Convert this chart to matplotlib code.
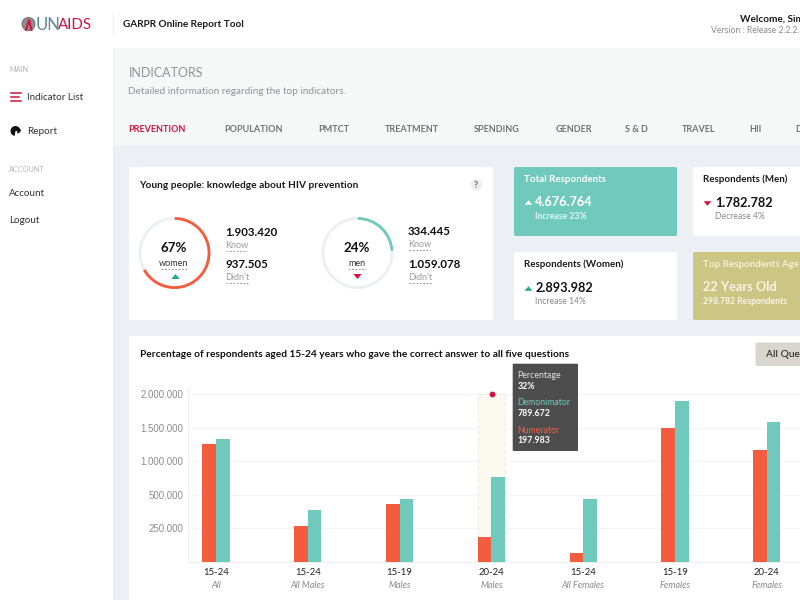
import matplotlib
matplotlib.use("Agg")
import matplotlib.pyplot as plt
import numpy as np
from matplotlib.patches import Circle, FancyBboxPatch, Rectangle, Wedge

plt.rcParams["font.family"] = ["Lato", "DejaVu Sans"]

RED = "#F45C40"
TEAL = "#70C9BD"
CRIMSON = "#D6123C"
BODY = "#ECEFF4"
SUBHEAD = "#F6F8F8"
GREEN_UP = "#1FA98F"
UP = [(-1, -0.6), (1, -0.6), (0, 0.6)]
DOWN = [(-1, 0.6), (1, 0.6), (0, -0.6)]

# chart data
age_groups = ["15-24", "15-24", "15-19", "20-24", "15-24", "15-19", "20-24"]
populations = ["All", "All Males", "Males", "Males", "All Females", "Females", "Females"]
numerator = [1250000, 265000, 427000, 180000, 61000, 1490000, 1170000]
denominator = [1330000, 385000, 467000, 755000, 467000, 1900000, 1575000]
y_ticks = [250000, 500000, 1000000, 1500000, 2000000]
y_tick_labels = ["250.000", "500.000", "1.000.000", "1.500.000", "2.000.000"]
highlight_group = 3

# tabs and cards
tab_names = ["PREVENTION", "POPULATION", "PMTCT", "TREATMENT", "SPENDING", "GENDER", "S & D", "TRAVEL", "HII", "D"]
tab_lefts = [129, 225, 319, 385, 474, 556, 626, 682, 750, 796]
women_pct = 67
men_pct = 24


def box(ui, x0, y0, x1, y1, color, radius=2, z=1):
    ui.add_patch(FancyBboxPatch((x0, y0), x1 - x0, y1 - y0, boxstyle=f"round,pad=0,rounding_size={radius}",
                                facecolor=color, edgecolor="none", zorder=z))


# lato sits a little high and right of the reference font, hence the small nudge
def txt(ui, x, y, s, size, color="#1a1a1a", weight="normal", ha="left", z=5, **kw):
    ui.text(x - 0.6, y + 0.6, s, fontsize=size, color=color, fontweight=weight, ha=ha, va="center", zorder=z, **kw)


def dashes(ui, x0, x1, y):
    ui.plot([x0, x1], [y, y], color="#9a9a9a", lw=0.7, ls=(0, (2, 1.5)), zorder=5)


def donut(fig, cx, cy, pct, color):
    r = 36
    ax = fig.add_axes([(cx - r) / 800, 1 - (cy + r) / 600, 2 * r / 800, 2 * r / 600], zorder=3)
    ax.pie([pct, 100 - pct], colors=[color, "#ECEFF4"], startangle=90, counterclock=False, radius=1,
           wedgeprops={"width": 0.08, "linewidth": 0})
    ax.set_xlim(-1, 1)
    ax.set_ylim(-1, 1)


fig = plt.figure(figsize=(8, 6), dpi=100, facecolor=BODY)

# page furniture in pixel coordinates
ui = fig.add_axes([0, 0, 1, 1], zorder=1)
ui.set_xlim(0, 800)
ui.set_ylim(600, 0)
ui.axis("off")

ui.add_patch(Rectangle((0, 0), 800, 48, facecolor="white", edgecolor="none", zorder=1))
ui.add_patch(Rectangle((0, 48), 113, 552, facecolor="white", edgecolor="none", zorder=1))
ui.add_patch(Rectangle((113, 48), 687, 97, facecolor=SUBHEAD, edgecolor="none", zorder=1))
ui.plot([113, 113], [14, 34], color="#EEEEEE", lw=0.8, zorder=2)
ui.plot([113, 113], [48, 600], color="#E6E8EA", lw=0.6, zorder=2)

# logo
ui.add_patch(Circle((28.5, 24), 6.5, facecolor="#8c8c8c", edgecolor="#666666", lw=0.6, zorder=3))
ui.plot([26, 29, 31.5], [30, 20, 30], color=CRIMSON, lw=1.4, zorder=4)
txt(ui, 36.5, 24, "UN", 12, "#5B88A3")
txt(ui, 58.5, 24, "AIDS", 10.8, CRIMSON)

txt(ui, 124, 24, "GARPR Online Report Tool", 7.2, "#1a1a1a", "bold")
txt(ui, 741, 18.5, "Welcome, Simon", 7.2, "#1a1a1a", "bold")
txt(ui, 712, 30, "Version : Release 2.2.2.3", 6.2, "#8a8a8a")

# sidebar
txt(ui, 10, 69, "MAIN", 5.2, "#b5b5b5")
for y in [93, 97, 101]:
    ui.plot([11, 21 if y != 97 else 19], [y, y], color=CRIMSON, lw=1.1, zorder=3)
txt(ui, 28, 96.5, "Indicator List", 7.1, "#333333")
ui.add_patch(Wedge((15.5, 131), 5, 100, 360, facecolor="#111111", edgecolor="none", zorder=3))
ui.add_patch(Wedge((17, 129.5), 4, 0, 85, facecolor="#111111", edgecolor="none", zorder=3))
txt(ui, 28, 130.5, "Report", 7.2, "#333333")
txt(ui, 10, 169, "ACCOUNT", 5.2, "#b5b5b5")
txt(ui, 10, 192.5, "Account", 7.1, "#333333")
txt(ui, 10, 220, "Logout", 7.1, "#333333")

# page heading and tabs
txt(ui, 129, 72, "INDICATORS", 9, "#8f9497")
txt(ui, 129, 90.5, "Detailed information regarding the top indicators.", 7.2, "#8f9497")
for i, (name, left) in enumerate(zip(tab_names, tab_lefts)):
    txt(ui, left, 129, name, 6.5, CRIMSON if i == 0 else "#6f7376", "bold", clip_on=True)

# knowledge card
box(ui, 129, 167, 493, 320, "white")
txt(ui, 140, 184.5, "Young people: knowledge about HIV prevention", 7.3, "#1a1a1a", "bold")
ui.add_patch(Circle((476.5, 184.5), 5.8, facecolor="#EEEEEE", edgecolor="none", zorder=3))
txt(ui, 476.5, 184.5, "?", 6.5, "#666666", "bold", ha="center")

donut(fig, 174.5, 253, women_pct, RED)
donut(fig, 357.5, 253, men_pct, TEAL)

overlay = fig.add_axes([0, 0, 1, 1], zorder=6)
overlay.set_xlim(0, 800)
overlay.set_ylim(600, 0)
overlay.axis("off")

txt(overlay, 174.5, 247.5, f"{women_pct}%", 9.6, "#111111", "bold", ha="center")
txt(overlay, 174.5, 262.5, "women", 6.5, "#333333", ha="center")
dashes(overlay, 161, 188, 268.5)
overlay.plot([174.5], [276], marker=UP, ms=6, color=GREEN_UP, mew=0)
txt(overlay, 357.5, 247.5, f"{men_pct}%", 9.6, "#111111", "bold", ha="center")
txt(overlay, 357.5, 262.5, "men", 6.5, "#333333", ha="center")
dashes(overlay, 348, 366, 268.5)
overlay.plot([357], [276], marker=DOWN, ms=6, color=CRIMSON, mew=0)

txt(overlay, 226, 232, "1.903.420", 8.3, "#111111", "bold")
txt(overlay, 226, 244.5, "Know", 6.5, "#9a9a9a")
dashes(overlay, 226, 247, 250.5)
txt(overlay, 226, 263.5, "937.505", 8.3, "#111111", "bold")
txt(overlay, 226, 276.5, "Didn't", 6.5, "#9a9a9a")
dashes(overlay, 226, 248, 282.5)
txt(overlay, 408.5, 231, "334.445", 8.3, "#111111", "bold")
txt(overlay, 408.5, 244, "Know", 6.5, "#9a9a9a")
dashes(overlay, 408.5, 430, 250)
txt(overlay, 408.5, 263.5, "1.059.078", 8.3, "#111111", "bold")
txt(overlay, 408.5, 276.5, "Didn't", 6.5, "#9a9a9a")
dashes(overlay, 408.5, 432, 282.5)

# summary cards
box(ui, 514, 167, 677, 236, TEAL)
txt(ui, 525, 179, "Total Respondents", 7, "white", "bold")
ui.plot([527.5], [201.5], marker=UP, ms=5.5, color="white", mew=0, zorder=5)
txt(ui, 536, 201, "4.676.764", 9.2, "white", "bold")
txt(ui, 536, 215.5, "Increase 23%", 6.2, "#E7F6F3", "bold")

box(ui, 693, 167, 812, 236, "white")
txt(ui, 704, 179, "Respondents (Men)", 7, "#1a1a1a", "bold")
ui.plot([707], [202.5], marker=DOWN, ms=5.5, color=CRIMSON, mew=0, zorder=5)
txt(ui, 715.5, 202, "1.782.782", 9.2, "#111111", "bold")
txt(ui, 715.5, 216, "Decrease 4%", 6.2, "#8a8a8a")

box(ui, 514, 252, 677, 320, "white")
txt(ui, 525, 264, "Respondents (Women)", 7, "#1a1a1a", "bold")
ui.plot([527.5], [287.5], marker=UP, ms=5.5, color=GREEN_UP, mew=0, zorder=5)
txt(ui, 536, 287, "2.893.982", 9.2, "#111111", "bold")
txt(ui, 536, 301, "Increase 14%", 6.2, "#8a8a8a")

box(ui, 693, 252, 812, 320, "#CCC583")
txt(ui, 704, 264, "Top Respondents Age", 7, "#F3F0D8", "bold")
txt(ui, 704, 286, "22 Years Old", 9.2, "#F8F6E6", "bold")
txt(ui, 704, 300.5, "298.782 Respondents", 6.2, "#F8F6E6", "bold")

# chart card
box(ui, 129, 336, 812, 612, "white")
txt(ui, 140.5, 354, "Percentage of respondents aged 15-24 years who gave the correct answer to all five questions",
    7.25, "#111111", "bold")
box(ui, 755.5, 342.5, 812, 366, "#D9D6D0")
txt(ui, 766.5, 354, "All Questions", 7.4, "#1a1a1a")

# the y axis is evenly spaced across uneven labels, so map values through the ticks
tick_vals = [0] + y_ticks + [2090000]
tick_pos = [0, 1, 2, 3, 4, 5, 5.18]


def forward(v):
    return np.interp(v, tick_vals, tick_pos)


def inverse(p):
    return np.interp(p, tick_pos, tick_vals)


chart = fig.add_axes([188.3 / 800, 1 - 561.5 / 600, (800 - 188.3) / 800, (561.5 - 388) / 600], zorder=4)
chart.patch.set_alpha(0)
chart.set_yscale("function", functions=(forward, inverse))
chart.set_xlim(-0.302, 6.362)
chart.set_ylim(0, 2090000)

x = np.arange(len(age_groups))
width = 0.148

chart.bar(x[highlight_group], 2000000, width=width * 2, facecolor="#FBF9F0",
          edgecolor="#EAE8D6", lw=0.7, ls=(0, (4, 3)), zorder=1)
chart.bar(x - width / 2, numerator, width=width, color=RED, zorder=3)
chart.bar(x + width / 2, denominator, width=width, color=TEAL, zorder=3)
chart.plot([x[highlight_group] + 0.008], [2000000], "o", color=CRIMSON, ms=4.2, mew=0, zorder=5, clip_on=False)

chart.set_yticks(y_ticks, y_tick_labels)
chart.minorticks_off()
chart.yaxis.grid(True, color="#F3F4F5", lw=0.9)
chart.set_axisbelow(True)
chart.tick_params(axis="y", length=0, pad=3.5, labelsize=7, labelcolor="#8d8d8d")
for label in chart.get_yticklabels():
    label.set_fontfamily("Liberation Sans")
chart.set_xticks(x, age_groups)
chart.tick_params(axis="x", length=0, pad=4.5, labelsize=6.9, labelcolor="#222222")
for pos, name in zip(x, populations):
    chart.annotate(name, (pos, 0), xycoords=("data", "axes fraction"), xytext=(0, -24.5), textcoords="offset pixels",
                   ha="center", va="center", fontsize=6.6, fontstyle="italic", color="#8a8a8a", annotation_clip=False)
for side in ["top", "right"]:
    chart.spines[side].set_visible(False)
for side in ["left", "bottom"]:
    chart.spines[side].set_color("#EDEEF0")
    chart.spines[side].set_linewidth(0.8)

# tooltip
box(overlay, 512.7, 363.7, 578, 451, "#4D4D4D", radius=1)
txt(overlay, 518, 375, "Percentage", 6.3, "#E4E4E4")
txt(overlay, 518, 385.5, "32%", 6.3, "white", "bold")
txt(overlay, 518, 402, "Demonimator", 6.3, TEAL)
txt(overlay, 518, 413, "789.672", 6.3, "white", "bold")
txt(overlay, 518, 429.5, "Numerator", 6.3, RED)
txt(overlay, 518, 440, "197.983", 6.3, "white", "bold")

fig.savefig("out.png", dpi=100, facecolor=fig.get_facecolor())
